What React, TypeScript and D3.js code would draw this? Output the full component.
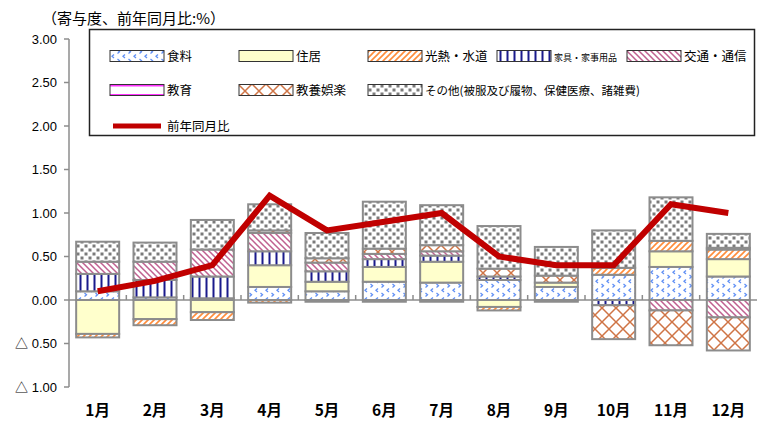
import React from "react";
import * as d3 from "d3";

const months = ["1月", "2月", "3月", "4月", "5月", "6月", "7月", "8月", "9月", "10月", "11月", "12月"];
const seriesNames = ["食料", "住居", "光熱・水道", "家具・家事用品", "交通・通信", "教育", "教養娯楽", "その他(被服及び履物、保健医療、諸雑費)"];

const food = [0.10, 0.03, 0.02, 0.15, 0.10, 0.21, 0.20, 0.23, 0.15, 0.29, 0.38, 0.27];
const housing = [-0.39, -0.22, -0.14, 0.25, 0.11, 0.17, 0.24, -0.08, 0.05, 0, 0.18, 0.20];
const utilities = [-0.04, -0.07, -0.09, -0.03, -0.02, -0.02, -0.02, -0.04, -0.02, 0.08, 0.12, 0.11];
const furniture = [0.20, 0.20, 0.25, 0.16, 0.12, 0.09, 0.07, 0.04, 0, -0.06, 0, 0.02];
const transport = [0.14, 0.21, 0.31, 0.21, 0.10, 0.06, 0.05, 0, 0, 0, -0.12, -0.20];
const education = [0, 0, 0, 0, 0, 0, 0, 0, 0, 0, 0, 0];
const recreation = [0, 0, 0, 0.03, 0.05, 0.06, 0.07, 0.09, 0.08, -0.39, -0.40, -0.38];
const others = [0.23, 0.22, 0.34, 0.30, 0.29, 0.54, 0.46, 0.49, 0.33, 0.43, 0.50, 0.16];
const yoy = [0.1, 0.22, 0.4, 1.2, 0.8, 0.9, 1.0, 0.5, 0.4, 0.4, 1.1, 1.0];
const yTicks = [-1, -0.5, 0, 0.5, 1, 1.5, 2, 2.5, 3];

const seriesValues = [food, housing, utilities, furniture, transport, education, recreation, others];
const fills = ["url(#pFood)", "#ffffcc", "url(#pUtil)", "url(#pFurn)", "url(#pTrans)", "url(#pEdu)", "url(#pRec)", "url(#pOther)"];

const NUM = "'Liberation Sans', 'Noto Sans CJK JP', sans-serif";
const JP = "'Noto Sans CJK JP', sans-serif";

export default function App() {
  const W = 758, H = 421;
  const x = d3.scaleBand<string>().domain(months).range([69, 757]).paddingInner(0.25).paddingOuter(0.125);
  const y = d3.scaleLinear().domain([-1, 3]).range([387, 39]);

  const rects: { x: number; y0: number; y1: number; fill: string; key: string }[] = [];
  months.forEach((m, i) => {
    let pos = 0, neg = 0;
    seriesValues.forEach((arr, s) => {
      const v = arr[i];
      if (v === 0) return;
      if (v > 0) {
        rects.push({ x: x(m)!, y0: y(pos + v), y1: y(pos), fill: fills[s], key: `${i}-${s}` });
        pos += v;
      } else {
        rects.push({ x: x(m)!, y0: y(neg), y1: y(neg + v), fill: fills[s], key: `${i}-${s}` });
        neg += v;
      }
    });
  });

  const line = d3.line<number>()
    .x((_, i) => x(months[i])! + x.bandwidth() / 2)
    .y((d) => y(d));

  const fmt = (v: number) => (v < 0 ? "△ " + Math.abs(v).toFixed(2) : v.toFixed(2));

  const legendCols = [110, 239, 368, 497, 627];
  const legendRows = [56, 90];
  const legendItems = [0, 1, 2, 3, 4, 5, 6, 7].map((s) => {
    const col = s < 5 ? s : s - 5;
    const row = s < 5 ? 0 : 1;
    return { s, x: legendCols[col], y: legendRows[row] };
  });

  const step = x.step();
  const boundaries = months.slice(1).map((m) => x(m)! - step * 0.125);

  return (
    <svg width={W} height={H} style={{ position: "absolute", left: 0, top: 0, background: "#fff" }}>
      <defs>
        <pattern id="pFood" width="11" height="9" patternUnits="userSpaceOnUse">
          <rect width="11" height="9" fill="#fff" />
          <path d="M4,0.5 L2,2.3 L4,4" stroke="#5f8ff5" strokeWidth="1.3" fill="none" />
          <path d="M7.5,5 L9.5,6.8 L7.5,8.5" stroke="#5f8ff5" strokeWidth="1.3" fill="none" />
        </pattern>
        <pattern id="pUtil" width="6" height="6" patternUnits="userSpaceOnUse">
          <rect width="6" height="6" fill="#fff" />
          <path d="M-1,7 L7,-1 M-1,1 L1,-1 M5,7 L7,5" stroke="#ff8c3a" strokeWidth="1.6" />
        </pattern>
        <pattern id="pFurn" width="7" height="7" patternUnits="userSpaceOnUse">
          <rect width="7" height="7" fill="#fff" />
          <rect x="2.5" width="2" height="7" fill="#1a1a8c" />
        </pattern>
        <pattern id="pTrans" width="6" height="6" patternUnits="userSpaceOnUse">
          <rect width="6" height="6" fill="#fff" />
          <path d="M-1,-1 L7,7 M5,-1 L7,1 M-1,5 L1,7" stroke="#c06090" strokeWidth="1.5" />
        </pattern>
        <pattern id="pEdu" width="10" height="10" patternUnits="userSpaceOnUse">
          <rect width="10" height="10" fill="#fff" />
          <rect y="4" width="10" height="2.5" fill="#ff33ff" />
        </pattern>
        <pattern id="pRec" width="14" height="14" patternUnits="userSpaceOnUse">
          <rect width="14" height="14" fill="#fff" />
          <path d="M0,0 L14,14 M14,0 L0,14" stroke="#cf7445" strokeWidth="1.5" />
        </pattern>
        <pattern id="pOther" width="8" height="8" patternUnits="userSpaceOnUse">
          <rect width="8" height="8" fill="#fff" />
          <rect x="0.5" y="0.5" width="3" height="3" fill="#7a7a7a" />
          <rect x="4.5" y="4.5" width="3" height="3" fill="#7a7a7a" />
        </pattern>
      </defs>

      <text x={42} y={24} fontSize={15} fontFamily={JP} fill="#000">（寄与度、前年同月比:%）</text>

      <line x1={69} x2={69} y1={y(3)} y2={y(-1)} stroke="#8c8c8c" strokeWidth={1.5} />
      {yTicks.map((t) => (
        <g key={t}>
          <line x1={64} x2={69} y1={y(t)} y2={y(t)} stroke="#8c8c8c" strokeWidth={1.5} />
          <text x={57} y={y(t) + 4.5} textAnchor="end" fontSize={13} fontFamily={NUM} fill="#000">{fmt(t)}</text>
        </g>
      ))}

      <line x1={69} x2={757} y1={y(0)} y2={y(0)} stroke="#8c8c8c" strokeWidth={1.5} />
      {boundaries.map((bx, i) => (
        <line key={i} x1={bx} x2={bx} y1={y(0) - 5} y2={y(0)} stroke="#8c8c8c" strokeWidth={1.5} />
      ))}
      {months.map((m) => (
        <text key={m} x={x(m)! + x.bandwidth() / 2} y={416} textAnchor="middle" fontSize={15.5} fontWeight="bold" fontFamily={JP} fill="#000">{m}</text>
      ))}

      <rect x={89.5} y={29.5} width={665} height={106} fill="#fff" stroke="#222" strokeWidth={1.5} />
      {legendItems.map(({ s, x: lx, y: ly }) => (
        <g key={s}>
          <rect x={lx} y={ly - 5.5} width={54} height={11} fill={fills[s]} stroke="#333" strokeWidth={1} />
          <text x={lx + 57} y={ly + 4.5} fontSize={s === 3 ? 9 : s === 7 ? 11.5 : 12.5} fontFamily={JP} fill="#000">{seriesNames[s]}</text>
        </g>
      ))}
      <line x1={113} x2={161} y1={126} y2={126} stroke="#c00000" strokeWidth={5} />
      <text x={167} y={130.5} fontSize={12.5} fontFamily={JP} fill="#000">前年同月比</text>

      {rects.map((r) => (
        <rect key={r.key} x={r.x} y={r.y0} width={x.bandwidth()} height={Math.max(0, r.y1 - r.y0)} fill={r.fill} stroke="#8c8c8c" strokeWidth={2} />
      ))}

      <path d={line(yoy) || ""} fill="none" stroke="#c00000" strokeWidth={6} strokeLinejoin="miter" />
    </svg>
  );
}
